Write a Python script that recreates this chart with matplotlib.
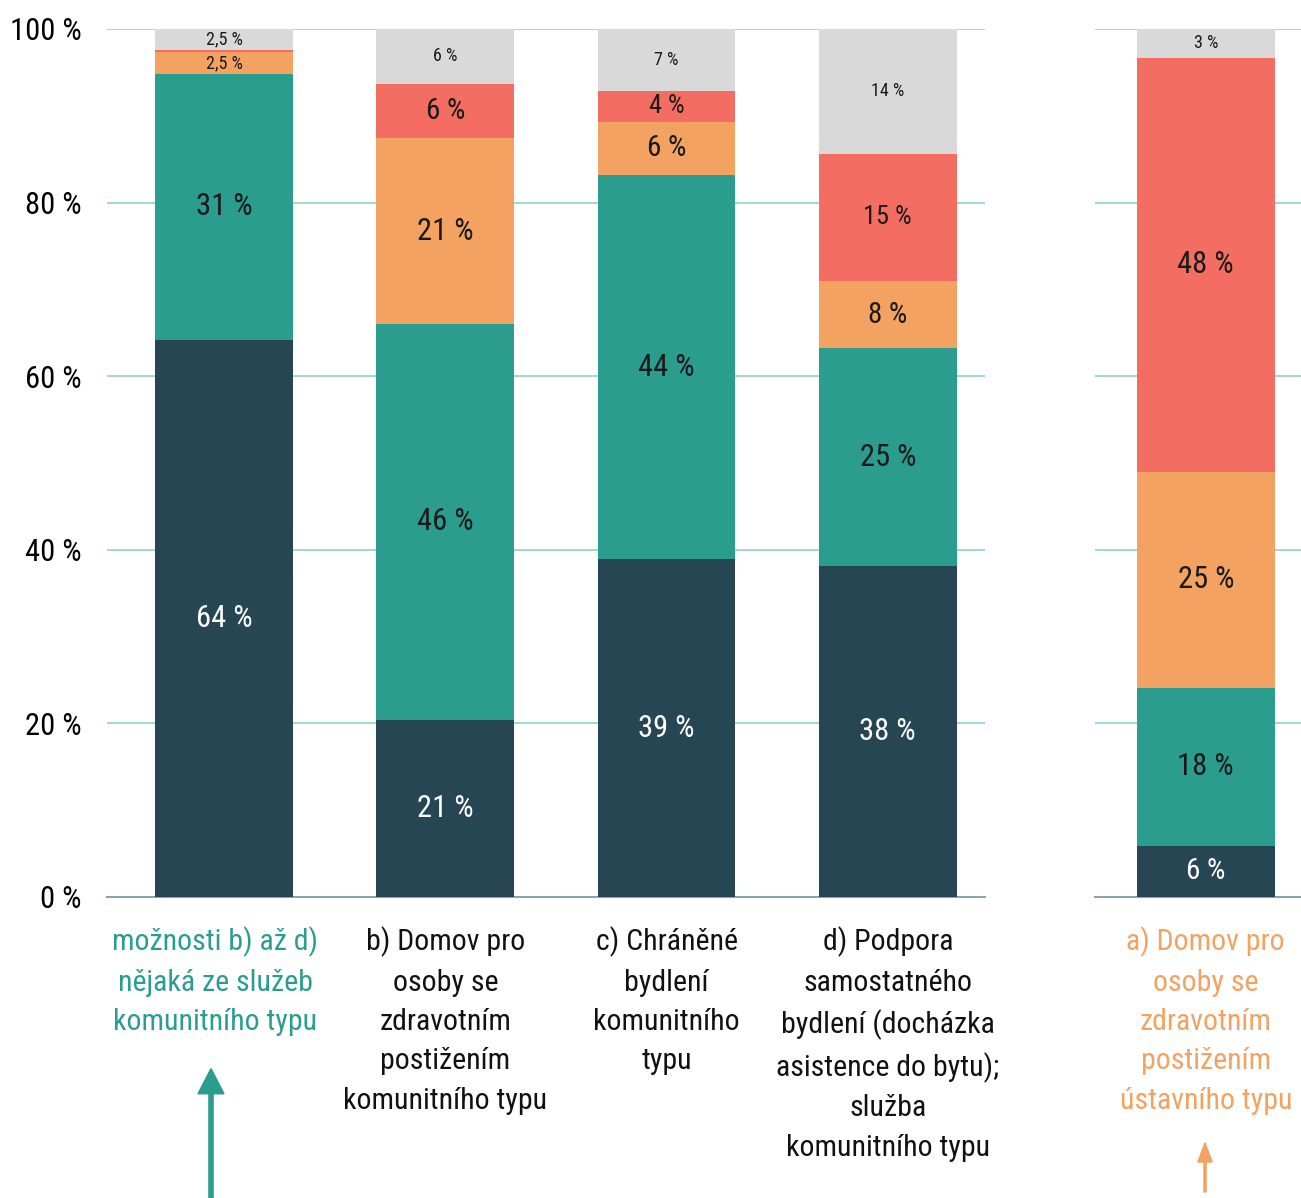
import matplotlib
matplotlib.use('Agg')
import matplotlib.pyplot as plt
import numpy as np

# data (percent shares, bottom -> top)
kategorie = ["možnosti b) až d)\nnějaká ze služeb\nkomunitního typu",
             "b) Domov pro\nosoby se\nzdravotním\npostižením\nkomunitního typu",
             "c) Chráněné\nbydlení\nkomunitního\ntypu",
             "d) Podpora\nsamostatného\nbydlení (docházka\nasistence do bytu);\nslužba\nkomunitního typu"]
tmava = [64.2, 20.4, 38.9, 38.1]
zelena = [30.6, 45.6, 44.3, 25.1]
oranzova = [2.55, 21.4, 6.1, 7.8]
cervena = [0.25, 6.3, 3.6, 14.6]
seda = [2.4, 6.3, 7.1, 14.4]

popisky = [["64 %", "21 %", "39 %", "38 %"],
           ["31 %", "46 %", "44 %", "25 %"],
           ["2,5 %", "21 %", "6 %", "8 %"],
           ["", "6 %", "4 %", "15 %"],
           ["2,5 %", "6 %", "7 %", "14 %"]]

kat_a = "a) Domov pro\nosoby se\nzdravotním\npostižením\nústavního typu"
hodnoty_a = [5.9, 18.2, 24.9, 47.7, 3.3]
popisky_a = ["6 %", "18 %", "25 %", "48 %", "3 %"]

barvy = ["#264653", "#2a9d8f", "#f4a261", "#f46d63", "#d9d9d9"]
barvy_textu = ["white", "#1a1a1a", "#1a1a1a", "#1a1a1a", "#1a1a1a"]
mrizka = "#8fd3c6"

plt.rcParams['font.family'] = ['Roboto Condensed', 'DejaVu Sans']

fig = plt.figure(figsize=(13.01, 11.98), dpi=100)
ax = fig.add_axes([0.0822, 0.2513, 0.675, 0.7245])
ax2 = fig.add_axes([0.8417, 0.2513, 0.1583, 0.7245])

sirka = 0.623

def velikost(v, i):
    if i == 4 or v < 3:
        return 13
    if v < 5:
        return 19
    if v < 10:
        return 21
    if v < 16:
        return 19
    return 22

def kresli(a, serie, texty, n):
    x = np.arange(n)
    spodek = np.zeros(n)
    for i, s in enumerate(serie):
        s = np.array(s)
        a.bar(x, s, sirka, bottom=spodek, color=barvy[i], zorder=3)
        for j in range(n):
            t = texty[i][j]
            if t:
                a.text(x[j], spodek[j] + s[j] / 2, t, ha='center', va='center',
                       fontsize=velikost(s[j], i), color=barvy_textu[i], zorder=4)
        spodek += s
    a.set_ylim(0, 100)
    a.grid(axis='y', color=mrizka, lw=1.2, zorder=0)
    for sp in ['top', 'right', 'left']:
        a.spines[sp].set_visible(False)
    a.spines['bottom'].set_color('#8fa3ad')
    a.spines['bottom'].set_linewidth(1.5)
    a.tick_params(length=0)
    a.set_yticks([0, 20, 40, 60, 80, 100])
    a.set_xticks([])

def osa_text(a, x, t, barva):
    a.text(x, -0.034, t, transform=a.get_xaxis_transform(), ha='center', va='top',
           fontsize=21.5, linespacing=1.52, color=barva)

kresli(ax, [tmava, zelena, oranzova, cervena, seda], popisky, 4)
ax.set_xlim(-0.53, 3.44)
ax.set_yticklabels([f"{v} %" for v in range(0, 101, 20)], fontsize=22)
ax.tick_params(axis='y', pad=18)
for k, t in enumerate(kategorie):
    osa_text(ax, k - 0.04 if k == 0 else k, t, "#2a9d8f" if k == 0 else "#111111")

kresli(ax2, [[v] for v in hodnoty_a], [[t] for t in popisky_a], 1)
ax2.set_xlim(-0.5, 0.43)
ax2.set_yticklabels([])
osa_text(ax2, 0, kat_a, "#f4a261")

# sipky
fig.patches.append(matplotlib.patches.FancyArrow(211 / 1301, 0, 0, 0.108, width=0.0032,
                   head_width=0.02, head_length=0.021, length_includes_head=True,
                   color="#2a9d8f", transform=fig.transFigure, figure=fig))
fig.patches.append(matplotlib.patches.FancyArrow(1205 / 1301, 0.005, 0, 0.041, width=0.0016,
                   head_width=0.011, head_length=0.016, length_includes_head=True,
                   color="#f4a261", transform=fig.transFigure, figure=fig))

fig.savefig("out.png", dpi=100)
